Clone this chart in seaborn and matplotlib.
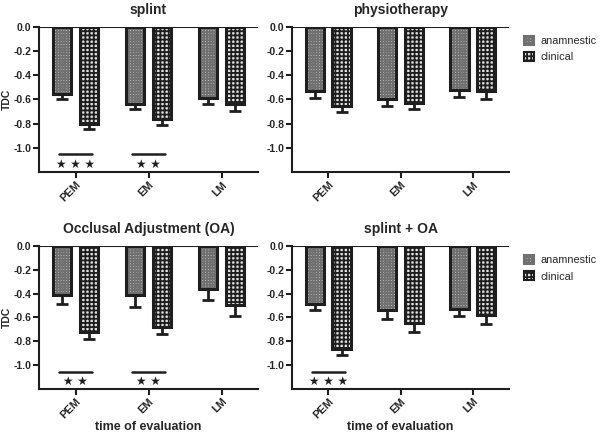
import pandas as pd
import numpy as np
import matplotlib
matplotlib.use('Agg')
import matplotlib.pyplot as plt
import seaborn as sns
from matplotlib.patches import Patch

sns.set_style('ticks')
plt.rcParams['font.family'] = ['Liberation Sans', 'DejaVu Sans']
plt.rcParams['hatch.linewidth'] = 1.3

times = ['PEM', 'EM', 'LM']
groups = ['anamnestic', 'clinical']
panels = ['splint', 'physiotherapy', 'Occlusal Adjustment (OA)', 'splint + OA']
yticks = [0.0, -0.2, -0.4, -0.6, -0.8, -1.0]
ytick_labels = ['0.0', '-0.2', '-0.4', '-0.6', '-0.8', '-1.0']

# mean TDC and error (SEM) per panel
anam_mean = {
    'splint': [-0.555, -0.635, -0.585],
    'physiotherapy': [-0.53, -0.60, -0.523],
    'Occlusal Adjustment (OA)': [-0.41, -0.416, -0.358],
    'splint + OA': [-0.485, -0.537, -0.526],
}
anam_err = {
    'splint': [0.045, 0.047, 0.05],
    'physiotherapy': [0.055, 0.056, 0.055],
    'Occlusal Adjustment (OA)': [0.08, 0.094, 0.097],
    'splint + OA': [0.055, 0.073, 0.06],
}
clin_mean = {
    'splint': [-0.805, -0.765, -0.64],
    'physiotherapy': [-0.656, -0.628, -0.529],
    'Occlusal Adjustment (OA)': [-0.725, -0.68, -0.496],
    'splint + OA': [-0.868, -0.644, -0.581],
}
clin_err = {
    'splint': [0.042, 0.045, 0.057],
    'physiotherapy': [0.052, 0.055, 0.069],
    'Occlusal Adjustment (OA)': [0.057, 0.061, 0.091],
    'splint + OA': [0.049, 0.081, 0.075],
}
# significance marks: (time, stars)
signif = {
    'splint': [('PEM', 3), ('EM', 2)],
    'physiotherapy': [],
    'Occlusal Adjustment (OA)': [('PEM', 2), ('EM', 2)],
    'splint + OA': [('PEM', 3)],
}

rows = []
for p in panels:
    for i, t in enumerate(times):
        rows.append((p, t, 'anamnestic', anam_mean[p][i], anam_err[p][i]))
        rows.append((p, t, 'clinical', clin_mean[p][i], clin_err[p][i]))
df = pd.DataFrame(rows, columns=['panel', 'time', 'group', 'TDC', 'err'])

styles = {
    'anamnestic': dict(fc='#c4c4c4', hc='#707070', hatch='++++++'),
    'clinical': dict(fc='#e4e4e4', hc='#1e1e1e', hatch='++++'),
}

fig = plt.figure(figsize=(6, 4.33), dpi=100)
positions = [
    [0.065, 0.603, 0.365, 0.335],
    [0.487, 0.603, 0.361, 0.335],
    [0.065, 0.102, 0.365, 0.330],
    [0.487, 0.102, 0.361, 0.330],
]

for k, p in enumerate(panels):
    ax = fig.add_axes(positions[k])
    d = df[df.panel == p]
    sns.barplot(data=d, x='time', y='TDC', hue='group', order=times,
                hue_order=groups, width=0.74, gap=0.3, errorbar=None,
                legend=False, ax=ax)
    bars = list(ax.patches)
    # patches come ordered hue by hue
    for j, g in enumerate(groups):
        st = styles[g]
        gd = d[d.group == g].set_index('time').loc[times]
        for i, t in enumerate(times):
            b = bars[j * len(times) + i]
            b.set_facecolor(st['fc'])
            b.set_edgecolor(st['hc'])
            b.set_hatch(st['hatch'])
            b.set_linewidth(0)
            xc = b.get_x() + b.get_width() / 2
            ax.bar(xc, gd.TDC[t], width=b.get_width(), fill=False,
                   edgecolor='#1e1e1e', linewidth=2.2, zorder=3)
            ax.errorbar(xc, gd.TDC[t], yerr=[[gd.err[t]], [0]], fmt='none',
                        ecolor='#1e1e1e', elinewidth=2, capsize=4.3,
                        capthick=2, zorder=2)
    for t, n in signif[p]:
        xi = times.index(t)
        ax.plot([xi - 0.23, xi + 0.23], [-1.055, -1.055], color='#1e1e1e', lw=1.8)
        ax.text(xi, -1.135, ' '.join(['\u2605'] * n), ha='center', va='center',
                fontsize=8.5, color='#1e1e1e', family=['DejaVu Sans'])

    ax.axhline(0, color='#1e1e1e', lw=1.5, zorder=4)
    ax.set_ylim(-1.2, 0)
    ax.set_xlim(-0.5, 2.5)
    ax.set_yticks(yticks)
    ax.set_yticklabels(ytick_labels)
    sns.despine(ax=ax, top=True, right=True)
    for s in ['left', 'bottom']:
        ax.spines[s].set_linewidth(1.5)
        ax.spines[s].set_color('#1e1e1e')
    ax.tick_params(axis='both', width=1.5, length=4, color='#1e1e1e',
                   labelsize=7.5, pad=1.5)
    for lab in ax.get_yticklabels():
        lab.set_fontweight('bold')
    ax.set_xticks(range(3))
    ax.set_xticklabels(times, rotation=45, ha='right', rotation_mode='anchor',
                       fontweight='bold', fontsize=8)
    ax.set_title(p, fontsize=10, fontweight='bold', pad=9)
    ax.set_ylabel('TDC' if k % 2 == 0 else '', fontsize=7.5, fontweight='bold', labelpad=1)
    ax.set_xlabel('time of evaluation' if k >= 2 else '', fontsize=9,
                  fontweight='bold', labelpad=0)
    if k % 2 == 1:
        handles = [Patch(facecolor=styles[g]['fc'], edgecolor=styles[g]['hc'],
                         hatch=styles[g]['hatch'], linewidth=0) for g in groups]
        leg = ax.legend(handles, groups, loc='upper left', bbox_to_anchor=(1.05, 0.97),
                        frameon=False, fontsize=7.8, handlelength=0.9,
                        handleheight=0.9, handletextpad=0.6, labelspacing=0.6,
                        borderaxespad=0)
        for h in leg.legend_handles:
            h.set_linewidth(1.5)

fig.savefig('out.png', dpi=100)
